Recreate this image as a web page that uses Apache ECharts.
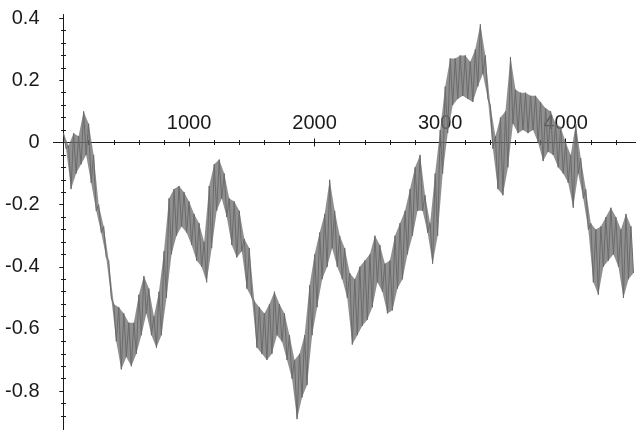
<!DOCTYPE html>
<html>
<head>
<meta charset="utf-8">
<script src="https://cdn.jsdelivr.net/npm/echarts@6/dist/echarts.min.js"></script>
<style>
  html, body { margin: 0; padding: 0; background: #fff; }
  #chart { width: 636px; height: 430px; }
</style>
</head>
<body>
<div id="chart"></div>
<script>
// sample positions along the walk (one every 40 steps)
var xs = [0, 40, 80, 120, 160, 200, 240, 280, 320, 360, 400, 440, 480, 520, 560, 600, 640, 680, 720, 760,
  800, 840, 880, 920, 960, 1000, 1040, 1080, 1120, 1160, 1200, 1240, 1280, 1320, 1360, 1400, 1440, 1480, 1520, 1560,
  1600, 1640, 1680, 1720, 1760, 1800, 1840, 1880, 1920, 1960, 2000, 2040, 2080, 2120, 2160, 2200, 2240, 2280, 2320, 2360,
  2400, 2440, 2480, 2520, 2560, 2600, 2640, 2680, 2720, 2760, 2800, 2840, 2880, 2920, 2960, 3000, 3040, 3080, 3120, 3160,
  3200, 3240, 3280, 3320, 3360, 3400, 3440, 3480, 3520, 3560, 3600, 3640, 3680, 3720, 3760, 3800, 3840, 3880, 3920, 3960,
  4000, 4040, 4080, 4120, 4160, 4200, 4240, 4280, 4320, 4360, 4400, 4440, 4480, 4520];
// top and bottom of the noisy trace in each window
var upper = [0.03, -0.01, 0.03, 0.02, 0.10, 0.06, -0.04, -0.20, -0.27, -0.38, -0.52, -0.53, -0.55, -0.58, -0.58, -0.49, -0.43, -0.47, -0.56, -0.48,
  -0.35, -0.18, -0.15, -0.14, -0.16, -0.19, -0.23, -0.26, -0.32, -0.14, -0.07, -0.055, -0.10, -0.18, -0.19, -0.22, -0.31, -0.34, -0.51, -0.53,
  -0.55, -0.52, -0.48, -0.52, -0.55, -0.62, -0.70, -0.68, -0.62, -0.46, -0.36, -0.29, -0.23, -0.12, -0.22, -0.30, -0.34, -0.42, -0.44, -0.40,
  -0.38, -0.36, -0.30, -0.33, -0.39, -0.38, -0.30, -0.26, -0.22, -0.15, -0.08, -0.04, -0.17, -0.26, -0.10, 0.04, 0.18, 0.27, 0.27, 0.28,
  0.28, 0.26, 0.30, 0.38, 0.28, 0.12, 0.02, 0.08, 0.10, 0.275, 0.17, 0.16, 0.16, 0.15, 0.15, 0.13, 0.11, 0.10, 0.06, 0.05,
  0.00, -0.04, 0.06, -0.05, -0.15, -0.26, -0.28, -0.27, -0.24, -0.21, -0.24, -0.28, -0.23, -0.27];
var lower = [-0.02, -0.15, -0.10, -0.07, -0.04, -0.13, -0.22, -0.29, -0.37, -0.50, -0.64, -0.73, -0.69, -0.72, -0.68, -0.62, -0.55, -0.62, -0.66, -0.62,
  -0.50, -0.36, -0.30, -0.27, -0.29, -0.33, -0.38, -0.40, -0.45, -0.34, -0.22, -0.18, -0.24, -0.33, -0.37, -0.35, -0.47, -0.50, -0.66, -0.68,
  -0.70, -0.68, -0.62, -0.64, -0.70, -0.76, -0.89, -0.82, -0.78, -0.62, -0.53, -0.44, -0.40, -0.34, -0.40, -0.44, -0.50, -0.65, -0.62, -0.59,
  -0.57, -0.53, -0.45, -0.48, -0.55, -0.54, -0.47, -0.44, -0.36, -0.30, -0.22, -0.22, -0.29, -0.39, -0.30, -0.10, 0.03, 0.12, 0.14, 0.15,
  0.14, 0.13, 0.18, 0.22, 0.14, -0.02, -0.15, -0.17, -0.08, 0.06, 0.03, 0.04, 0.03, 0.04, 0.00, -0.06, -0.03, -0.04, -0.08, -0.10,
  -0.13, -0.21, -0.10, -0.18, -0.28, -0.45, -0.49, -0.40, -0.38, -0.36, -0.40, -0.50, -0.44, -0.42];

var xMajor = [1000, 2000, 3000, 4000];
var xMinor = [200, 400, 600, 800, 1200, 1400, 1600, 1800, 2200, 2400, 2600, 2800, 3200, 3400, 3600, 3800, 4200, 4400];
var yMajor = [-0.8, -0.6, -0.4, -0.2, 0, 0.2, 0.4];
var yMinor = [-0.88, -0.84, -0.76, -0.72, -0.68, -0.64, -0.56, -0.52, -0.48, -0.44, -0.36, -0.32, -0.28, -0.24,
  -0.16, -0.12, -0.08, -0.04, 0.04, 0.08, 0.12, 0.16, 0.24, 0.28, 0.32, 0.36];

// zigzag between the top and bottom of each window so the trace looks dense
var walk = [];
for (var i = 0; i < xs.length; i++) {
  walk.push([xs[i], upper[i]]);
  walk.push([xs[i] + 20, lower[i]]);
}

var axisColor = '#1a1a1a';
var traceColor = '#6b6b6b';
var labelFont = { color: '#1a1a1a', fontSize: 20, fontFamily: '"Liberation Sans", Helvetica, Arial, sans-serif' };
var X_MIN = -80, X_MAX = 4560, Y_MIN = -0.925, Y_MAX = 0.41;

// x axis lives in its own grid whose bottom edge sits on y = 0
function xAxisOf(ticks, len, inside, labels) {
  return {
    type: 'value', gridIndex: 1, min: X_MIN, max: X_MAX, position: 'bottom',
    axisLine: { show: true, onZero: false, lineStyle: { color: axisColor, width: 1 } },
    axisTick: { show: true, customValues: ticks, length: len, inside: inside, lineStyle: { color: axisColor } },
    axisLabel: labels ? Object.assign({
      show: true, inside: true, margin: 9, customValues: xMajor,
      formatter: function (v) { return String(v); }
    }, labelFont) : { show: false },
    splitLine: { show: false }
  };
}

function yAxisOf(ticks, len, inside, labels) {
  return {
    type: 'value', gridIndex: 0, min: Y_MIN, max: Y_MAX,
    axisLine: { show: true, onZero: true, onZeroAxisIndex: 0, lineStyle: { color: axisColor, width: 1 } },
    axisTick: { show: true, customValues: ticks, length: len, inside: inside, lineStyle: { color: axisColor } },
    axisLabel: labels ? Object.assign({ show: true, margin: 14, customValues: yMajor }, labelFont) : { show: false },
    splitLine: { show: false }
  };
}

var chart = echarts.init(document.getElementById('chart'), null, { renderer: 'canvas' });
chart.setOption({
  animation: false,
  backgroundColor: '#fff',
  grid: [
    { left: 53.5, right: 0, top: 15, bottom: 0, containLabel: false },
    { left: 53.5, right: 0, top: 15, bottom: 287.5, containLabel: false }
  ],
  xAxis: [
    { type: 'value', gridIndex: 0, min: X_MIN, max: X_MAX, show: false },
    xAxisOf(xMajor, 4, false, true),
    xAxisOf(xMajor, 4, true, false),
    xAxisOf(xMinor, 2.5, false, false),
    xAxisOf(xMinor, 2.5, true, false)
  ],
  yAxis: [
    yAxisOf(yMajor, 4, false, true),
    yAxisOf(yMajor, 4, true, false),
    yAxisOf(yMinor, 2.5, false, false),
    yAxisOf(yMinor, 2.5, true, false),
    { type: 'value', gridIndex: 1, min: 0, max: 1, show: false }
  ],
  series: [{
    // fill between the top and bottom of the trace
    type: 'custom',
    xAxisIndex: 0,
    yAxisIndex: 0,
    silent: true,
    data: [[0, 0]],
    renderItem: function (params, api) {
      var pts = [];
      for (var k = 0; k < xs.length; k++) pts.push(api.coord([xs[k], upper[k]]));
      for (var k = xs.length - 1; k >= 0; k--) pts.push(api.coord([xs[k] + 20, lower[k]]));
      return { type: 'polygon', shape: { points: pts }, style: { fill: traceColor, opacity: 0.75 } };
    }
  }, {
    type: 'line',
    data: walk,
    xAxisIndex: 0,
    yAxisIndex: 0,
    showSymbol: false,
    silent: true,
    lineStyle: { color: traceColor, width: 1 }
  }]
});
</script>
</body>
</html>
